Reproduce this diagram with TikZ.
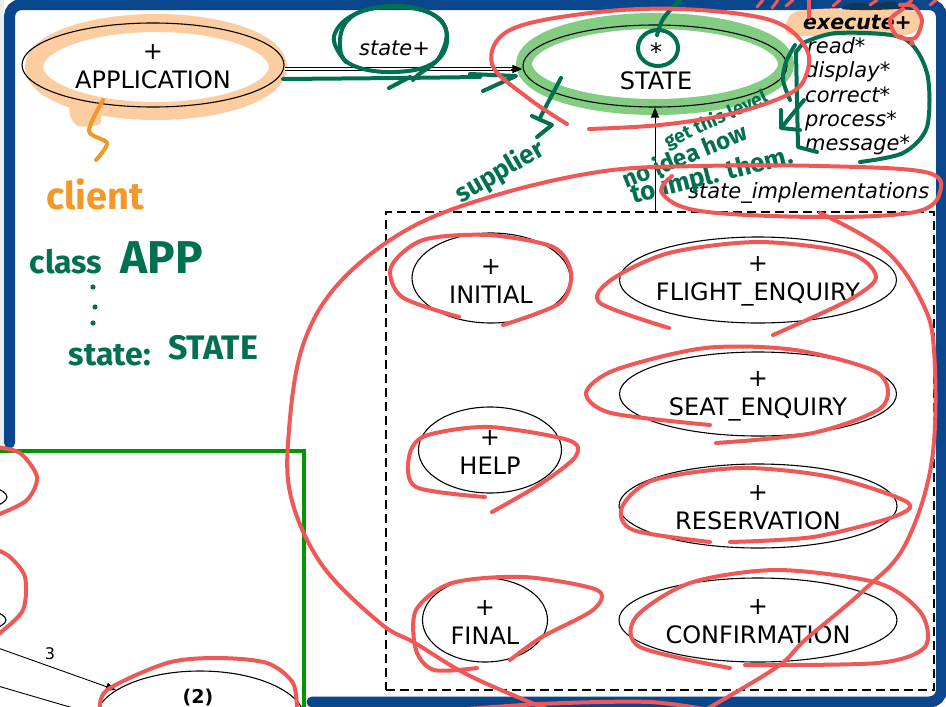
\documentclass[tikz,border=0pt]{standalone}
\usepackage{fontspec}
\setmainfont{DejaVu Sans}
\newfontfamily\hand{Fira Sans}
\usetikzlibrary{arrows.meta,shapes.geometric,calc}
\definecolor{frameblue}{RGB}{10,70,140}
\definecolor{wingreen}{RGB}{0,150,0}
\definecolor{inkgreen}{RGB}{0,112,80}
\definecolor{inkred}{RGB}{240,88,88}
\definecolor{inkorange}{RGB}{242,152,40}
\definecolor{hlorange}{RGB}{251,205,160}
\definecolor{hlgreen}{RGB}{130,205,130}
\definecolor{navyblot}{RGB}{20,55,85}
\newcommand\handfont[1]{\hand\bfseries\fontsize{#1}{#1}\selectfont}
\tikzset{
  classell/.style={ellipse, draw=black, line width=1.1pt, inner sep=0pt},
  classname/.style={font=\fontsize{24}{29}\selectfont, align=center, inner sep=0pt},
  feature/.style={font=\fontsize{21}{25}\selectfont\itshape, inner sep=0pt, anchor=base west},
  ink/.style={line width=4pt, line cap=round, line join=round},
  redink/.style={ink, draw=inkred},
  greenink/.style={ink, draw=inkgreen},
  orangeink/.style={ink, draw=inkorange},
  handtext/.style={inner sep=0pt},
  tip/.style={-{Triangle[length=10pt,width=8pt]}},
}
\begin{document}
\begin{tikzpicture}[x=1pt,y=-1pt]
\useasboundingbox (0,0) rectangle (946,707);
\clip (0,0) rectangle (946,707);
\fill[white] (0,0) rectangle (946,707);
\fill[gray!15] (0,0) rectangle (4,451);

% window frame
\draw[frameblue, line width=11pt, line cap=round, rounded corners=12pt]
  (9.5,443) -- (9.5,4.5) -- (941.5,4.5) -- (941.5,702) -- (312,702);

% overlapping window in the lower left
\fill[white] (0,451) rectangle (304,707);
\node[classell, minimum width=114pt, minimum height=30pt] (lft1) at (-50,497) {};
\node[classell, minimum width=112pt, minimum height=28pt] (lft2) at (-50,620) {};
\node[classell, minimum width=210pt, minimum height=98pt] (two) at (200,720) {};
\node[font=\fontsize{19}{22}\selectfont\bfseries, inner sep=0pt] (twolbl) at (198,698) {(2)};
\coordinate (src3) at (-2,648);
\draw[tip, line width=0.9pt] (src3) -- (two);
\node[font=\fontsize{16}{18}\selectfont, inner sep=0pt] (lbl3) at (50,654) {3};
\coordinate (src4) at (-2,686);
\coordinate (dst4) at (80,710);
\draw[line width=0.9pt] (src4) -- (dst4);
\draw[wingreen, line width=4.5pt] (0,451) -- (304,451) -- (304,707);

% highlighter marks
\draw[hlorange, line width=18pt, line cap=round] (156,67) ellipse [x radius=122pt, y radius=44pt];
\fill[hlorange] plot[smooth cycle] coordinates {(72,104) (98,108) (100,124) (78,126) (70,115)};
\draw[hlgreen, line width=16pt] (655,64) ellipse [x radius=131pt, y radius=43pt];
\fill[hlorange] plot[smooth cycle] coordinates {(786,25) (798,11) (860,8) (915,11) (921,24) (906,35) (850,36) (792,35)};
\fill[navyblot] plot[smooth cycle] coordinates {(842,9) (852,3) (872,4) (892,2) (906,8) (872,10)};

% classes
\node[classell, minimum width=262pt, minimum height=84pt] (app) at (153,65) {};
\node[classname] (applbl) at (153,67) {+\\APPLICATION};
\node[classell, minimum width=264pt, minimum height=82pt] (state) at (655,66) {};
\node[classname] (statelbl) at (656,66) {*\\STATE};

% client relation
\draw[line width=0.9pt, double distance=2.6pt, shorten >=9pt] ([yshift=-4pt]app.east) -- ([yshift=-3pt]state.west);
\draw[tip, line width=0.9pt] ($([yshift=-3pt]state.west)+(-11,0)$) -- ([yshift=-3pt]state.west);
\node[font=\fontsize{21}{25}\selectfont\itshape, inner sep=0pt, anchor=base west] (rel) at (359,55) {state+};

% features of STATE
\node[feature, font=\fontsize{20.5}{25}\selectfont\bfseries\itshape] (fexec) at (803,29) {execute+};
\node[feature] (fread) at (807,53) {read*};
\node[feature] (fdisp) at (805,77) {display*};
\node[feature] (fcorr) at (805,102) {correct*};
\node[feature] (fproc) at (805,126) {process*};
\node[feature] (fmsg) at (805,150) {message*};

% cluster of state implementations
\node[draw, line width=2.3pt, dash pattern=on 9pt off 5pt, minimum width=548pt, minimum height=478pt, inner sep=0pt] (impl) at (660,451) {};
\draw[tip, line width=0.9pt] (state.south |- impl.north) -- (state.south);
\node[feature] (impllbl) at (688,198) {state\_implementations};

\node[classell, minimum width=158pt, minimum height=90pt] (init) at (491,278) {};
\node[classname] (initlbl) at (491,281) {+\\INITIAL};
\node[classell, minimum width=277pt, minimum height=86pt] (flight) at (758,280) {};
\node[classname] (flightlbl) at (758,281) {+\\FLIGHT\_ENQUIRY};
\node[classell, minimum width=277pt, minimum height=84pt] (seat) at (758,394) {};
\node[classname] (seatlbl) at (758,396) {+\\SEAT\_ENQUIRY};
\node[classell, minimum width=143pt, minimum height=86pt] (help) at (490,450) {};
\node[classname] (helplbl) at (490,452) {+\\HELP};
\node[classell, minimum width=278pt, minimum height=84pt] (resv) at (758,506) {};
\node[classname] (resvlbl) at (758,508) {+\\RESERVATION};
\node[classell, minimum width=125pt, minimum height=84pt] (final) at (485,620) {};
\node[classname] (finallbl) at (485,622) {+\\FINAL};
\node[classell, minimum width=278pt, minimum height=84pt] (conf) at (758,620) {};
\node[classname] (conflbl) at (758,622) {+\\CONFIRMATION};

% orange notes
\draw[orangeink] plot[smooth] coordinates {(103,100) (89,131) (107,143) (96,160)};
\node[handtext, text=inkorange, font=\handfont{38}] (client) at (95,194) {client};

% green notes
\node[handtext, text=inkgreen, font=\handfont{32}] (hclass) at (66,262) {class};
\node[handtext, text=inkgreen, font=\handfont{46}] (happ) at (162,258) {APP};
\fill[inkgreen] (93,287) circle (2.6pt) (95,307) circle (2.6pt) (93,323) circle (2.6pt);
\node[handtext, text=inkgreen, font=\handfont{32}] (hstate) at (110,355) {state:};
\node[handtext, text=inkgreen, font=\handfont{34}] (hstype) at (213,348) {STATE};
\node[handtext, text=inkgreen, font=\handfont{26}, rotate=30] (hsupp) at (500,172) {supplier};
\node[handtext, text=inkgreen, font=\handfont{19}, rotate=25] (hlevel) at (716,120) {get this level};
\node[handtext, text=inkgreen, font=\handfont{24}, rotate=22] (hidea) at (684,155) {no idea how};
\node[handtext, text=inkgreen, font=\handfont{26}, rotate=14] (himpl) at (712,176) {to impl. them.};

\draw[greenink] plot[smooth cycle, tension=0.7] coordinates {(340,45) (350,18) (385,7) (430,13) (447,35) (435,62) (395,72) (352,65)};
\draw[greenink] plot[smooth, tension=0.7] coordinates {(346,62) (334,36) (360,12) (410,7) (444,25) (440,56) (418,75) (413,80)};
\draw[greenink] (389,88) -- (410,77);
\draw[greenink] (283,79) -- (400,78) -- (480,77);
\draw[greenink] (470,74) -- (516,76) -- (483,91);
\draw[greenink] (658,48) ellipse [x radius=20pt, y radius=18pt];
\draw[greenink] (657,35) .. controls (662,18) .. (684,-4);
\draw[greenink] plot[smooth] coordinates {(561,78) (552,95) (543,112) (540,118)};
\draw[greenink] (532,116) -- (552,125) -- (537,137);
\draw[greenink] plot[smooth] coordinates {(795,45) (786,62) (783,80) (790,100)};
\draw[greenink] (803,43) -- (796,52) -- (798,147) -- (817,152);
\draw[greenink] plot[smooth] coordinates {(803,43) (837,33) (903,38) (927,73) (927,127) (903,153) (860,162)};
\draw[greenink] (804,100) -- (782,127);
\draw[greenink] (781,110) -- (781,128) -- (800,130);

% red notes
\draw[redink] plot[smooth, tension=0.6] coordinates {(567,124) (528,98) (492,64) (510,30) (590,13) (680,9) (770,20) (806,48) (805,78) (785,96) (730,114) (660,125) (589,129)};
\draw[redink] plot[smooth, tension=0.6] coordinates {(549,710) (470,676) (415,643) (380,623) (322,565) (291,497) (289,430) (303,345) (340,282) (410,228) (500,194) (605,171) (700,166) (820,166) (925,172) (940,192) (915,212) (820,217) (700,211) (662,193) (672,176)};
\draw[redink] plot[smooth, tension=0.6] coordinates {(820,213) (885,250) (921,300) (934,350) (932,460) (905,545) (864,590) (805,640) (777,667) (705,710)};
\draw[redink] plot[smooth] coordinates {(430,712) (540,704) (650,702) (720,712)};
\draw[redink] (809,0) -- (809,17);
\draw[redink, line width=3pt] (757,7) -- (763,0) (772,8) -- (778,0) (786,6) -- (793,0) (833,6) -- (840,0) (870,5) -- (877,0) (905,6) -- (912,0) (930,5) -- (936,0);
\draw[redink] plot[smooth] coordinates {(903,9) (890,20) (897,36) (915,38) (922,20) (913,6) (900,5)};
\fill[inkred] (912,43) circle (2.6pt);

\draw[redink] plot[smooth] coordinates {(459,317) (402,297) (391,267) (423,240) (488,235) (553,247) (571,273) (560,303) (503,325)};
\draw[redink] plot[smooth] coordinates {(669,328) (600,303) (611,280) (669,253) (759,242) (849,253) (876,277) (849,300) (773,335)};
\draw[redink] plot[smooth] coordinates {(710,425) (611,413) (586,393) (615,370) (705,348) (795,350) (878,373) (882,407) (813,433) (716,443)};
\draw[redink] plot[smooth] coordinates {(485,497) (416,487) (409,457) (425,436) (488,427) (568,440) (576,456) (542,483) (492,512)};
\draw[redink] plot[smooth] coordinates {(710,542) (633,530) (622,507) (654,480) (741,468) (831,477) (907,502) (893,517) (813,537) (730,542)};
\draw[redink] plot[smooth] coordinates {(477,668) (434,670) (416,650) (416,610) (452,583) (524,577) (597,590) (593,610) (542,637) (510,660)};
\draw[redink] plot[smooth] coordinates {(730,668) (640,647) (636,617) (690,583) (777,570) (878,583) (921,613) (925,647) (878,663) (745,665)};
\draw[redink] plot[smooth] coordinates {(-5,447) (20,453) (37,477) (27,500) (0,514) (-5,516)};
\draw[redink] plot[smooth] coordinates {(-5,549) (10,557) (25,577) (23,610) (0,633) (-5,636)};
\draw[redink] plot[smooth] coordinates {(100,712) (107,690) (167,663) (217,658) (267,663) (293,683) (297,712)};
\end{tikzpicture}
\end{document}
